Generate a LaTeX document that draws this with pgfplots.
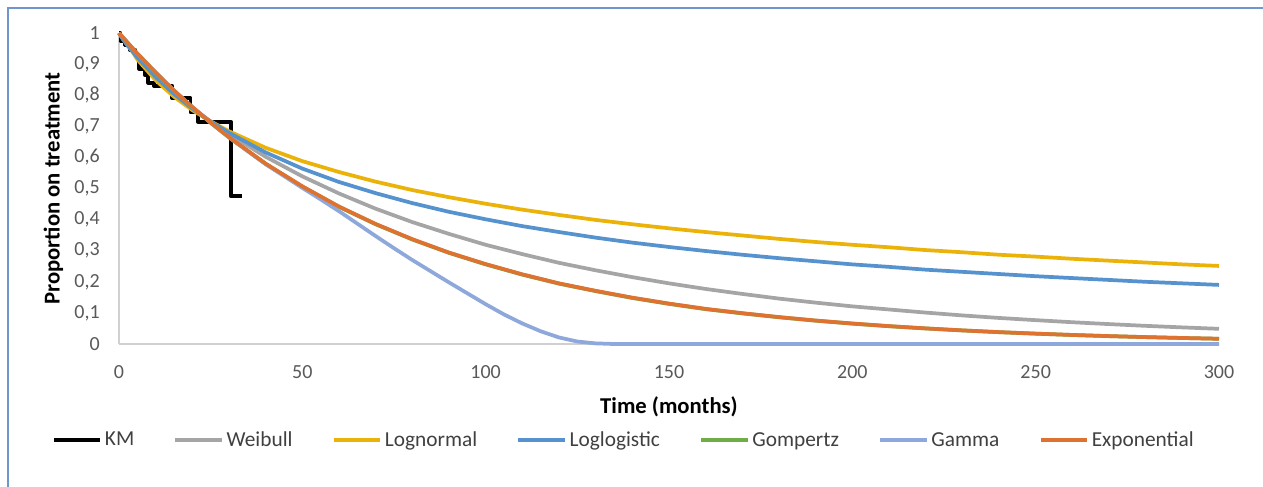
\documentclass[border=0pt]{standalone}
\usepackage{fontspec}
\setmainfont{Carlito}
\usepackage{pgfplots}
\pgfplotsset{compat=1.18}
\definecolor{cW}{HTML}{A5A5A5}
\definecolor{cLN}{HTML}{EBB20A}
\definecolor{cLL}{HTML}{5592CE}
\definecolor{cGo}{HTML}{70AD47}
\definecolor{cGa}{HTML}{8FA8DC}
\definecolor{cEx}{HTML}{DE7230}
\definecolor{tickc}{HTML}{595959}
\definecolor{legc}{HTML}{404040}
\definecolor{framec}{HTML}{7094CC}
\definecolor{axc}{HTML}{D0D0D0}
\begin{document}
\begin{tikzpicture}
\useasboundingbox (-89.25pt,-106.5pt) rectangle (858pt,258pt);
\begin{axis}[
  scale only axis, width=825pt, height=233.25pt,
  at={(0,0)}, anchor=south west,
  xmin=0, xmax=300, ymin=0, ymax=1,
  axis lines=left, axis line style={-, draw=axc, line width=0.9pt},
  xtick={0,50,100,150,200,250,300},
  ytick={0,0.1,0.2,0.3,0.4,0.5,0.6,0.7,0.8,0.9,1},
  major tick length=0pt,
  clip=false,
  tick label style={font=\fontsize{15}{18}\selectfont, text=tickc},
  /pgf/number format/use comma,
  /pgf/number format/assume math mode=true,
  xticklabel style={anchor=north, inner sep=0pt, yshift=-15.75pt},
  yticklabel style={anchor=east, inner sep=0pt, xshift=-14.25pt},
  xlabel={Time (months)},
  ylabel={Proportion on treatment},
  xlabel style={at={([yshift=-52pt]axis description cs:0.5,0)}, anchor=base, font=\bfseries\fontsize{17}{20}\selectfont},
  ylabel style={at={([xshift=-44.5pt]axis description cs:0,0.5)}, anchor=base, font=\bfseries\fontsize{17}{20}\selectfont},
  legend columns=7,
  legend style={at={(axis description cs:0.458,-0.309)}, anchor=center, draw=none, fill=none,
    font=\fontsize{16}{19}\selectfont, text=legc, nodes={inner xsep=0pt},
    /tikz/every odd column/.append style={column sep=2pt},
    /tikz/every even column/.append style={column sep=29.5pt}},
  legend image code/.code={\draw[#1] (0pt,0pt) -- (35pt,0pt);},
  every axis plot/.append style={line width=2.8pt, mark=none},
]
\addplot[black, line join=round] coordinates {
(0,1) (0.4,1) (0.4,0.975) (1.5,0.975) (1.5,0.96) (3,0.96) (3,0.945) (4.5,0.945) (4.5,0.925) (5.5,0.925) (5.5,0.885) (7,0.885) (7,0.865) (8,0.865) (8,0.84) (9.5,0.84) (9.5,0.83) (14.5,0.83) (14.5,0.79) (19.5,0.79) (19.5,0.745) (21.5,0.745) (21.5,0.715) (30.5,0.715) (30.5,0.475) (33.5,0.475)};
\addlegendentry{KM}
\addplot[cW] coordinates {
(0,1) (1,0.981) (2.5,0.957) (5,0.923) (10,0.862) (15,0.808) (20,0.760) (25,0.715) (30,0.675) (40,0.602) (50,0.539) (60,0.484) (70,0.435) (80,0.392) (90,0.354) (100,0.319) (110,0.289) (120,0.261) (130,0.237) (140,0.215) (150,0.195) (160,0.177) (170,0.161) (180,0.146) (190,0.133) (200,0.121) (210,0.111) (220,0.101) (230,0.0919) (240,0.0838) (250,0.0767) (260,0.0700) (270,0.0640) (280,0.0584) (290,0.0534) (300,0.0488)};
\addlegendentry{Weibull}
\addplot[cLN] coordinates {
(0,1) (1,0.985) (2.5,0.962) (5,0.915) (10,0.848) (15,0.795) (20,0.752) (25,0.716) (30,0.684) (40,0.631) (50,0.588) (60,0.553) (70,0.522) (80,0.495) (90,0.472) (100,0.451) (110,0.432) (120,0.415) (130,0.399) (140,0.385) (150,0.372) (160,0.360) (170,0.349) (180,0.338) (190,0.328) (200,0.319) (210,0.311) (220,0.302) (230,0.295) (240,0.287) (250,0.281) (260,0.274) (270,0.268) (280,0.262) (290,0.256) (300,0.251)};
\addlegendentry{Lognormal}
\addplot[cLL] coordinates {
(0,1) (1,0.982) (2.5,0.958) (5,0.921) (10,0.858) (15,0.804) (20,0.757) (25,0.715) (30,0.679) (40,0.616) (50,0.564) (60,0.521) (70,0.485) (80,0.453) (90,0.425) (100,0.401) (110,0.379) (120,0.360) (130,0.342) (140,0.326) (150,0.312) (160,0.299) (170,0.287) (180,0.276) (190,0.266) (200,0.256) (210,0.248) (220,0.239) (230,0.232) (240,0.225) (250,0.218) (260,0.212) (270,0.206) (280,0.200) (290,0.195) (300,0.190)};
\addlegendentry{Loglogistic}
\addplot[cGo] coordinates {
(0,1) (5,0.933) (10,0.872) (15,0.814) (20,0.761) (25,0.711) (30,0.664) (40,0.579) (50,0.506) (60,0.441) (70,0.385) (80,0.336) (90,0.293) (100,0.256) (110,0.223) (120,0.194) (130,0.170) (140,0.148) (150,0.129) (160,0.112) (170,0.0985) (180,0.0860) (190,0.0750) (200,0.0655) (210,0.0572) (220,0.0500) (230,0.0436) (240,0.0380) (250,0.0332) (260,0.0290) (270,0.0253) (280,0.0221) (290,0.0193) (300,0.0168)};
\addlegendentry{Gompertz}
\addplot[cGa] coordinates {
(0,1) (5,0.934) (10,0.873) (15,0.815) (20,0.762) (25,0.712) (30,0.665) (35,0.621) (40,0.578) (45,0.540) (50,0.502) (55,0.465) (60,0.427) (65,0.387) (70,0.347) (75,0.308) (80,0.270) (85,0.234) (90,0.198) (95,0.163) (100,0.128) (105,0.095) (110,0.066) (115,0.041) (120,0.021) (125,0.008) (130,0.002) (135,0) (300,0)};
\addlegendentry{Gamma}
\addplot[cEx] coordinates {
(0,1) (5,0.934) (10,0.873) (15,0.815) (20,0.762) (25,0.712) (30,0.665) (40,0.580) (50,0.507) (60,0.442) (70,0.386) (80,0.337) (90,0.294) (100,0.257) (110,0.224) (120,0.195) (130,0.171) (140,0.149) (150,0.130) (160,0.113) (170,0.0991) (180,0.0865) (190,0.0755) (200,0.0659) (210,0.0575) (220,0.0502) (230,0.0438) (240,0.0382) (250,0.0334) (260,0.0291) (270,0.0254) (280,0.0222) (290,0.0194) (300,0.0169)};
\addlegendentry{Exponential}
\end{axis}
\draw[framec, line width=1.2pt] (-83.25pt,-120pt) -- (-83.25pt,252pt) -- (870pt,252pt);
\end{tikzpicture}
\end{document}
